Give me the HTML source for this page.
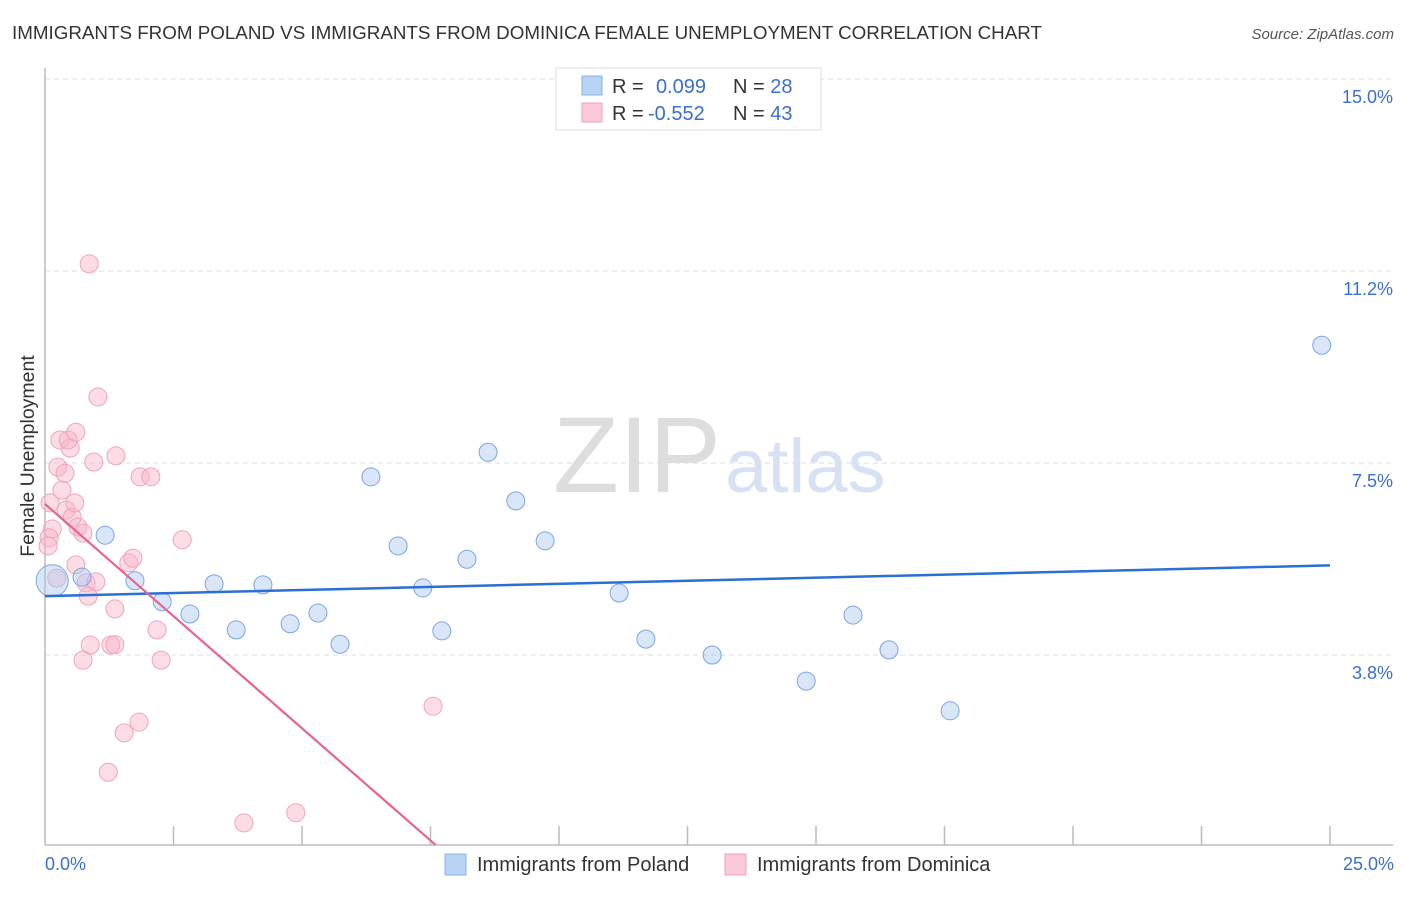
<!DOCTYPE html>
<html><head><meta charset="utf-8"><style>
body{margin:0;background:#fff;font-family:"Liberation Sans",sans-serif;}
svg text{font-family:"Liberation Sans",sans-serif;}
</style></head><body>
<svg width="1406" height="892" xmlns="http://www.w3.org/2000/svg" id="chart">
<text x="12" y="39" font-size="18.8" fill="#333">IMMIGRANTS FROM POLAND VS IMMIGRANTS FROM DOMINICA FEMALE UNEMPLOYMENT CORRELATION CHART</text>
<text x="1394" y="39" font-size="15" fill="#555" text-anchor="end" font-style="italic">Source: ZipAtlas.com</text>
<text x="553" y="492" font-size="108" fill="#ddd" font-family="Liberation Serif">ZIP<tspan fill="#d6e2f3" font-family="Liberation Sans" font-size="76" dx="4">atlas</tspan></text>
<g id="grid"></g>
<g id="axes"></g>
<g id="points"></g>
<g id="lines"></g>
<text transform="translate(34,456) rotate(-90)" font-size="19.5" fill="#333" text-anchor="middle">Female Unemployment</text>
<text x="45" y="870" font-size="18" fill="#3a6fd0">0.0%</text>
<text x="1394" y="870" font-size="18" fill="#3a6fd0" text-anchor="end">25.0%</text>
<g>
<rect x="556" y="68" width="265" height="62" fill="#fff" stroke="#ddd"/>
<rect x="582" y="76" width="20" height="19" fill="#b9d3f5" stroke="#8ab0e6"/>
<rect x="582" y="103" width="20" height="19" fill="#fbc9d7" stroke="#f0a0b8"/>
<text x="612" y="93" font-size="20" fill="#333">R = <tspan fill="#3a6fd0" x="656">0.099</tspan><tspan x="733" fill="#333">N = </tspan><tspan fill="#3a6fd0">28</tspan></text>
<text x="612" y="120" font-size="20" fill="#333">R = <tspan fill="#3a6fd0" x="648">-0.552</tspan><tspan x="733" fill="#333">N = </tspan><tspan fill="#3a6fd0">43</tspan></text>
</g>
<g>
<rect x="445" y="854" width="21" height="21" fill="#b9d3f5" stroke="#8ab0e6"/>
<text x="477" y="871" font-size="20" fill="#333">Immigrants from Poland</text>
<rect x="725" y="854" width="21" height="21" fill="#fbc9d7" stroke="#f0a0b8"/>
<text x="757" y="871" font-size="20" fill="#333">Immigrants from Dominica</text>
</g>
</svg>
<script>
const yTicks=[3.75,7.5,11.25,15];
const yTickLabels=["3.8%","7.5%","11.2%","15.0%"];
const polandX=[0.14,0.72,1.17,1.75,2.28,2.82,3.29,3.72,4.24,4.77,5.31,5.74,6.34,6.87,7.35,7.72,8.21,8.62,9.16,9.73,11.17,11.69,12.98,14.81,15.72,16.42,17.61,24.84];
const polandY=[5.2,5.27,6.09,5.2,4.79,4.55,5.14,4.24,5.12,4.36,4.57,3.96,7.23,5.88,5.06,4.22,5.62,7.71,6.76,5.98,4.96,4.06,3.75,3.24,4.53,3.85,2.66,9.8];
const polandSize=[16,9,9,9,9,9,9,9,9,9,9,9,9,9,9,9,9,9,9,9,9,9,9,9,9,9,9,9];
const domX=[0.23,0.1,0.14,0.08,0.06,0.25,0.29,0.33,0.39,0.41,0.49,0.45,0.53,0.58,0.6,0.64,0.6,0.74,0.8,0.84,0.99,0.86,1.03,0.95,1.38,1.36,1.28,0.88,0.74,1.63,1.71,1.85,2.06,2.18,2.26,2.67,1.83,1.54,1.23,3.87,4.88,7.55,1.36];
const domY=[5.25,6.72,6.21,6.04,5.88,7.42,7.95,6.97,7.3,6.58,7.79,7.95,6.44,6.72,8.1,6.25,5.51,6.13,5.16,4.9,5.18,11.39,8.79,7.52,7.64,4.65,3.945,3.945,3.65,5.55,5.64,7.23,7.23,4.24,3.65,6.0,2.44,2.23,1.46,0.47,0.67,2.75,3.95];
const polandTrend=[0,4.9,25,5.5];
const domTrend=[0,6.7,7.6,0.04];
const NS="http://www.w3.org/2000/svg";
const X=v=>45+v*51.4, Y=v=>847-v*51.2;
function mk(tag,attrs,parent){const e=document.createElementNS(NS,tag);for(const k in attrs)e.setAttribute(k,attrs[k]);document.getElementById(parent).appendChild(e);return e;}
yTicks.forEach((t,i)=>{
 const l=mk('line',{x1:45,x2:1393,y1:Y(t),y2:Y(t),stroke:'#ddd','stroke-dasharray':'5,4'},'grid');
 
 
 const tx=mk('text',{x:1393,y:Y(t)+24,'font-size':18,fill:'#3a6fd0','text-anchor':'end'},'grid');
 tx.textContent=yTickLabels[i];
 
 
});
const ya=mk('line',{x1:45,x2:45,y1:68,y2:845,stroke:'#bbb','stroke-width':1.5},'axes');


const xa=mk('line',{x1:45,x2:1393,y1:845,y2:845,stroke:'#bbb','stroke-width':1.5},'axes');


for(let i=1;i<=10;i++){const t=mk('line',{x1:X(i*2.5),x2:X(i*2.5),y1:826,y2:845,stroke:'#bbb','stroke-width':1.5},'axes');
 
 }
domX.forEach((v,i)=>{const c=mk('circle',{cx:X(v),cy:Y(domY[i]),r:9,fill:'rgba(248,180,200,0.45)',stroke:'#f0a3ba','stroke-width':1},'points');
 
 });
polandX.forEach((v,i)=>{const c=mk('circle',{cx:X(v),cy:Y(polandY[i]),r:polandSize[i],fill:'rgba(170,200,240,0.45)',stroke:'#7aa6e3','stroke-width':1},'points');
 
 });
const pl=mk('line',{x1:X(polandTrend[0]),y1:Y(polandTrend[1]),x2:X(polandTrend[2]),y2:Y(polandTrend[3]),stroke:'#2b6fd6','stroke-width':2.5},'lines');


const dl=mk('line',{x1:X(domTrend[0]),y1:Y(domTrend[1]),x2:X(domTrend[2]),y2:Y(domTrend[3]),stroke:'#e8638f','stroke-width':2.2},'lines');


</script>
</body></html>
